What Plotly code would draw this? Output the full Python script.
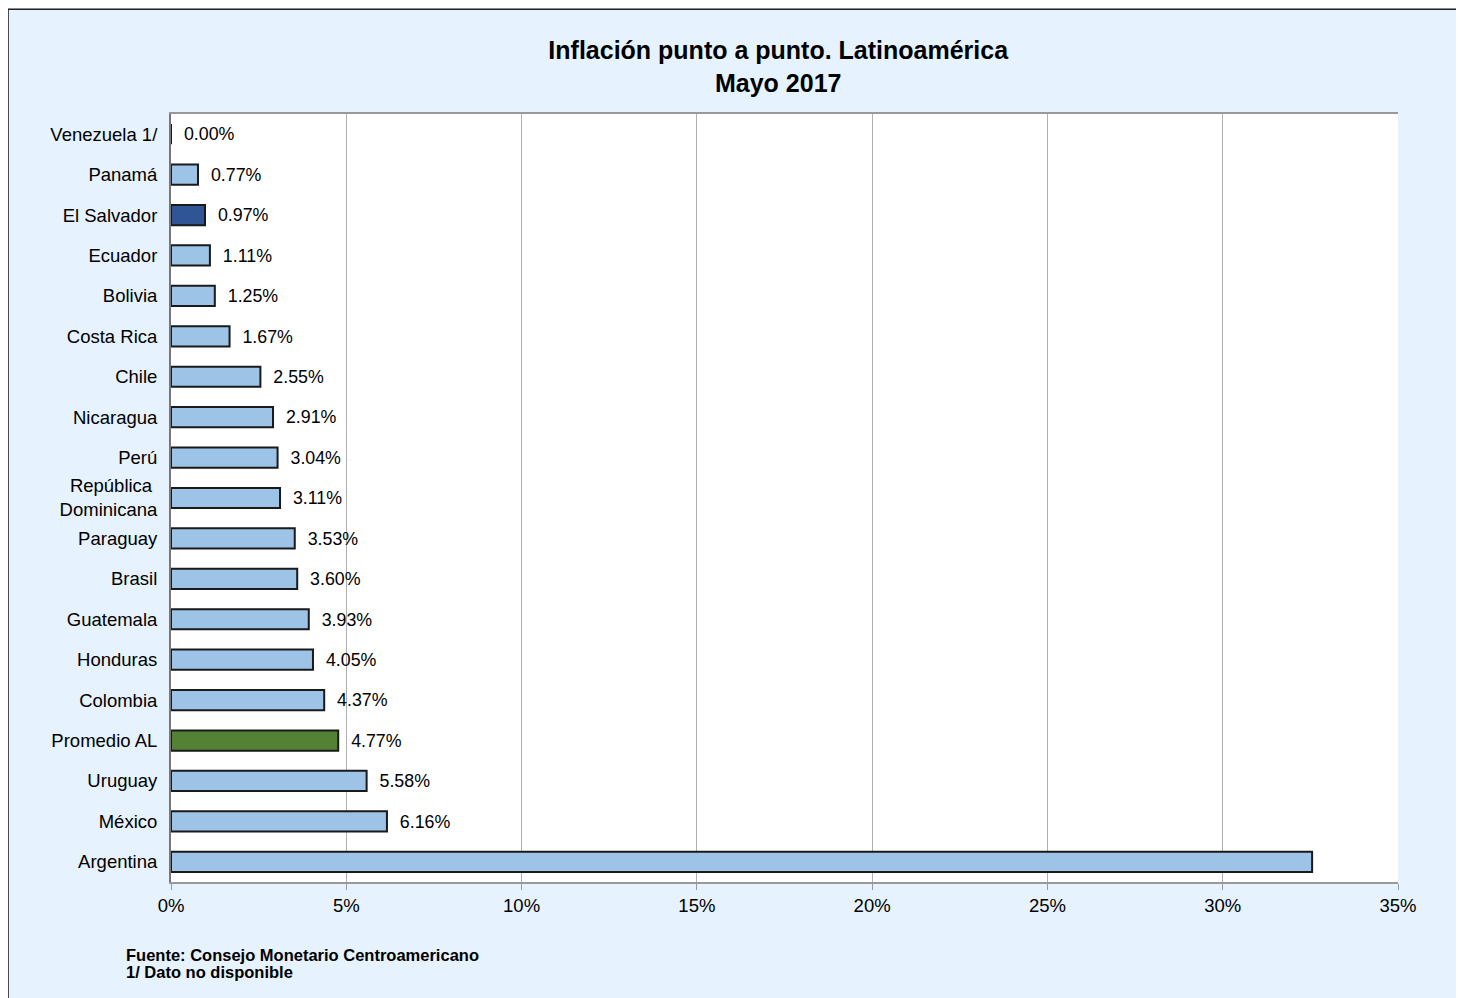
import plotly.graph_objects as go

paises = [
    "Venezuela 1/", "Panamá", "El Salvador", "Ecuador", "Bolivia", "Costa Rica",
    "Chile", "Nicaragua", "Perú", "República Dominicana", "Paraguay", "Brasil",
    "Guatemala", "Honduras", "Colombia", "Promedio AL", "Uruguay", "México", "Argentina",
]
inflacion = [
    0.00, 0.77, 0.97, 1.11, 1.25, 1.67, 2.55, 2.91, 3.04, 3.11, 3.53, 3.60,
    3.93, 4.05, 4.37, 4.77, 5.58, 6.16, 32.55,
]
etiquetas = [
    "0.00%", "0.77%", "0.97%", "1.11%", "1.25%", "1.67%", "2.55%", "2.91%", "3.04%",
    "3.11%", "3.53%", "3.60%", "3.93%", "4.05%", "4.37%", "4.77%", "5.58%", "6.16%", "",
]
x_ticks = [0, 5, 10, 15, 20, 25, 30, 35]

_AZUL = "#9dc3e6"
_AZUL_OSC = "#2f5597"
_VERDE = "#538135"
_FAM = "Arial, Liberation Sans, sans-serif"
colores = [
    _AZUL_OSC if p == "El Salvador" else _VERDE if p == "Promedio AL" else _AZUL
    for p in paises
]
# etiqueta en dos líneas, con la primera centrada sobre la segunda
y_ticktext = [
    "República\u00a0<br>Dominicana" if p == "República Dominicana" else p for p in paises
]

fig = go.Figure(
    go.Bar(
        x=inflacion,
        y=paises,
        orientation="h",
        marker=dict(color=colores, line=dict(color="#1a1a1a", width=2)),
        text=["  " + t if t else "" for t in etiquetas],
        textposition="outside",
        cliponaxis=False,
        textfont=dict(family=_FAM, size=18.5, color="#000"),
        width=0.5,
    )
)

# la página añade 8px de margen al body: se compensa en tamaño y márgenes
fig.update_layout(
    width=1456,
    height=990,
    paper_bgcolor="#e6f2fd",
    plot_bgcolor="white",
    font=dict(family=_FAM, size=18.5, color="#000"),
    margin=dict(l=163, r=66, t=106, b=116),
    showlegend=False,
    title=dict(
        text="<b>Inflación punto a punto. Latinoamérica<br>Mayo 2017</b>",
        x=0.529,
        xanchor="center",
        y=0.948,
        yanchor="top",
        font=dict(size=25, color="#000"),
    ),
    shapes=[
        dict(
            type="rect", xref="paper", yref="paper",
            x0=-0.1328, x1=1.2, y0=-0.3, y1=1.1365,
            line=dict(color="#222", width=1.5), fillcolor="rgba(0,0,0,0)",
            layer="below",
        )
    ],
    annotations=[
        dict(
            text="<b>Fuente: Consejo Monetario Centroamericano</b>",
            xref="paper", yref="paper", x=-0.0385, y=-0.0951,
            xanchor="left", yanchor="middle", align="left", showarrow=False,
            font=dict(size=16.5, color="#000"),
        ),
        dict(
            text="<b>1/ Dato no disponible</b>",
            xref="paper", yref="paper", x=-0.0385, y=-0.1172,
            xanchor="left", yanchor="middle", align="left", showarrow=False,
            font=dict(size=16.5, color="#000"),
        ),
    ],
)

fig.update_xaxes(
    range=[0, 35],
    tickvals=x_ticks,
    ticktext=[f"{v}%" for v in x_ticks],
    showgrid=True,
    gridcolor="#b0b0b0",
    gridwidth=1,
    zeroline=False,
    showline=True,
    linecolor="#999",
    linewidth=2,
    mirror=True,
    ticks="outside",
    tickcolor="#999",
    ticklen=6,
    tickfont=dict(size=18.5),
)
fig.update_yaxes(
    categoryorder="array",
    categoryarray=paises,
    tickvals=paises,
    ticktext=y_ticktext,
    autorange="reversed",
    showline=True,
    linecolor="#777",
    linewidth=2,
    ticks="",
    ticklabelstandoff=8,
    tickfont=dict(size=18.5),
)

fig.write_html("out.html")
